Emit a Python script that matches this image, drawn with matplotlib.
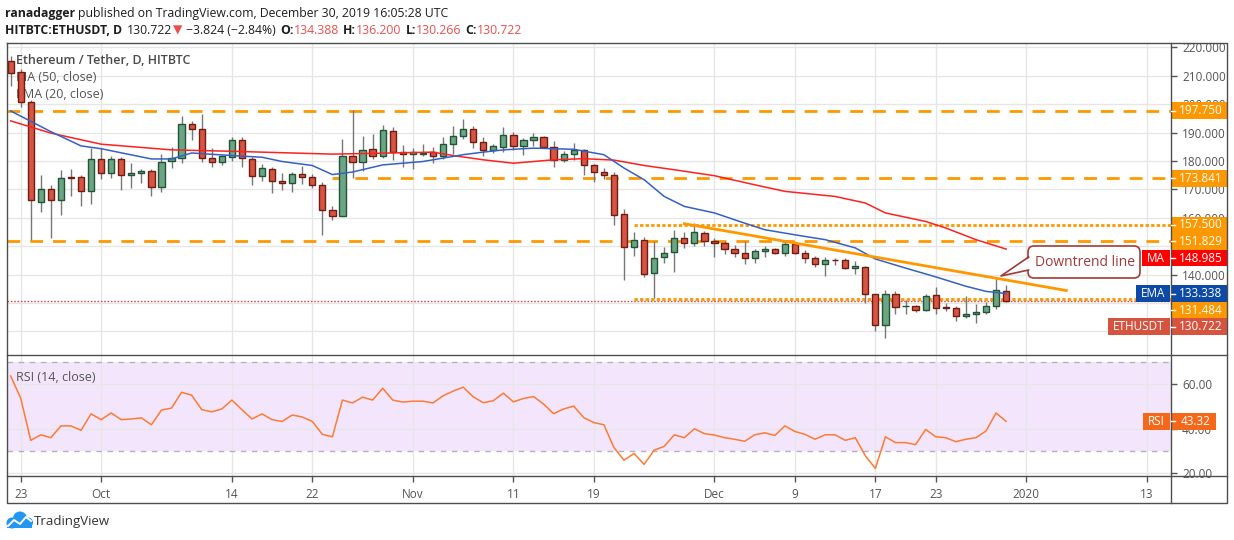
"""ETH/USDT daily chart (TradingView style) with MA50, EMA20 and RSI."""
import numpy as np
import pandas as pd
import matplotlib
matplotlib.use("Agg")
import matplotlib.pyplot as plt
import matplotlib.dates as mdates
from matplotlib.patches import Rectangle, FancyBboxPatch, Polygon, Circle

plt.rcParams['font.family'] = ['Open Sans', 'DejaVu Sans']

# ---------------------------------------------------------------------------
# Data
# ---------------------------------------------------------------------------
dates = pd.date_range('2019-09-22', '2019-12-30', freq='D')

opens = [215.0, 211.4, 200.9, 165.7, 170.1, 166.1, 174.2, 174.2, 169.3,
         180.6, 175.9, 180.6, 175.0, 175.7, 176.5, 170.7, 180.0, 181.0, 193.1,
         191.2, 181.0, 179.8, 181.3, 187.2, 180.6, 174.8, 177.1, 173.0, 172.2,
         175.4, 174.3, 171.6, 162.7, 160.6, 181.7, 179.6, 184.1, 181.7, 190.5, 183.3,
         182.4, 182.6, 183.1, 181.7, 185.9, 188.7, 191.2, 186.6, 183.8, 184.9,
         189.1, 185.2, 187.3, 188.4, 184.9, 180.3, 182.4, 183.8, 178.5, 176.1,
         175.0, 161.3, 149.7, 152.2, 140.6, 146.1, 147.9, 152.9, 151.1, 154.6,
         151.9, 151.1, 149.0, 147.6, 145.9, 148.3, 149.0, 147.6, 150.9, 147.6,
         145.9, 143.7, 145.2, 145.3, 142.3, 142.7, 133.2, 122.3, 133.2, 128.8,
         128.9, 127.7, 132.8, 128.5, 128.4, 125.4, 126.1, 126.8, 128.8, 134.388]
highs = [217.0, 212.5, 201.5, 175.1, 171.5, 176.9, 177.0, 175.0, 184.5,
         184.5, 181.6, 181.5, 179.2, 177.1, 177.0, 182.5, 184.9, 195.9, 194.0,
         196.6, 184.5, 182.0, 188.4, 188.4, 181.4, 179.0, 178.0, 175.8, 176.2,
         178.3, 175.5, 172.5, 164.2, 187.8, 198.0, 188.8, 189.5, 192.7, 192.0, 185.7,
         184.7, 186.0, 185.0, 188.5, 192.3, 194.8, 192.3, 188.5, 186.0, 192.0,
         190.2, 188.0, 189.9, 188.8, 187.1, 183.6, 186.4, 184.3, 178.9, 177.5,
         176.1, 163.2, 154.9, 153.3, 151.9, 149.6, 155.8, 155.0, 158.2, 155.5,
         152.9, 151.9, 150.3, 151.9, 149.0, 150.2, 149.3, 152.3, 151.5, 148.8,
         146.7, 146.2, 145.9, 145.9, 144.7, 143.2, 133.3, 134.7, 134.4, 131.0,
         129.4, 133.3, 135.7, 130.0, 128.9, 132.6, 129.5, 130.3, 138.8, 136.2]
lows = [206.2, 199.1, 152.3, 162.2, 152.9, 161.1, 167.7, 164.2, 164.9,
        173.6, 174.0, 169.9, 170.4, 172.2, 167.7, 168.9, 177.5, 179.2, 187.2,
        179.8, 177.8, 178.6, 180.0, 177.8, 171.6, 172.8, 168.7, 169.9, 169.2,
        171.9, 170.5, 154.0, 159.1, 160.5, 174.0, 176.3, 180.6, 181.2, 180.2, 177.7,
        177.2, 181.6, 179.2, 180.7, 182.4, 187.7, 184.7, 181.6, 182.7, 183.3,
        184.0, 182.2, 185.4, 184.5, 177.7, 179.5, 180.2, 175.1, 172.7, 173.6,
        157.3, 138.0, 146.4, 139.1, 131.8, 144.1, 140.8, 149.3, 150.2, 150.0,
        146.1, 147.3, 146.1, 143.7, 144.1, 146.2, 147.2, 146.4, 147.2, 144.1,
        142.7, 139.4, 143.3, 141.8, 140.3, 130.0, 120.1, 117.7, 126.2, 126.2,
        126.9, 127.1, 126.3, 127.1, 123.6, 124.8, 122.8, 126.3, 127.9, 130.266]
closes = [211.1, 200.9, 166.3, 170.1, 166.1, 174.0, 173.9, 169.3, 180.6,
          175.9, 180.6, 175.0, 175.7, 176.5, 170.7, 179.8, 181.0, 193.1, 191.2,
          181.0, 179.5, 181.6, 187.2, 181.0, 174.8, 177.5, 172.8, 172.2, 175.4,
          174.2, 171.6, 162.6, 160.6, 181.7, 179.6, 183.8, 181.7, 190.8, 183.3, 182.4,
          183.1, 182.8, 181.7, 185.9, 188.7, 191.2, 186.6, 183.8, 185.2, 189.1,
          185.2, 187.3, 188.4, 184.9, 180.3, 182.4, 183.8, 178.5, 176.1, 175.0,
          160.9, 149.7, 152.2, 140.2, 145.9, 147.6, 152.9, 151.1, 155.0, 151.9,
          151.1, 149.0, 147.6, 145.9, 148.4, 149.0, 147.6, 150.9, 147.6, 145.9,
          143.7, 145.3, 145.0, 142.3, 143.2, 133.2, 122.3, 133.2, 128.6, 128.9,
          127.7, 132.6, 128.3, 128.3, 125.4, 126.3, 127.0, 128.8, 134.55, 130.722]

rsi = [63.7, 53.8, 34.8, 37.3, 36.0, 41.3, 41.3, 39.3, 46.7,
       44.1, 47.1, 44.1, 44.4, 44.9, 41.8, 48.4, 49.3, 56.4, 55.1,
       48.6, 47.6, 48.9, 52.9, 48.6, 44.4, 46.7, 44.1, 43.3, 46.2,
       45.3, 43.3, 37.5, 36.4, 52.9, 51.6, 54.2, 52.9, 58.2, 52.9, 52.0,
       52.4, 52.4, 51.6, 54.8, 56.9, 58.7, 54.4, 51.7, 52.6, 56.0,
       52.1, 53.6, 54.5, 51.1, 46.8, 48.9, 50.2, 45.0, 42.8, 41.8,
       31.6, 25.9, 28.9, 24.0, 30.4, 32.1, 37.3, 36.0, 40.0, 37.8,
       37.2, 36.0, 35.3, 34.4, 37.3, 38.2, 37.0, 41.3, 38.8, 37.5,
       35.3, 37.3, 37.3, 34.8, 36.0, 27.9, 22.2, 36.4, 33.8, 33.8,
       32.9, 39.7, 36.4, 36.0, 34.2, 35.3, 36.0, 39.0, 47.1, 43.32]

ma_dates = ['2019-09-22', '2019-09-26', '2019-10-01', '2019-10-08', '2019-10-14',
            '2019-10-24', '2019-10-27', '2019-11-03', '2019-11-05', '2019-11-08',
            '2019-11-11', '2019-11-15', '2019-11-18', '2019-11-21', '2019-11-24',
            '2019-11-27', '2019-12-01', '2019-12-05', '2019-12-08', '2019-12-13',
            '2019-12-16', '2019-12-18', '2019-12-22', '2019-12-24', '2019-12-27',
            '2019-12-30']
ma_vals = [194.1, 189.8, 185.9, 183.9, 183.4, 182.4, 182.6, 183.1, 181.9, 180.4,
           179.2, 180.4, 180.8, 180.3, 178.4, 176.9, 174.8, 171.6, 169.3, 167.5,
           165.2, 161.7, 158.7, 156.4, 152.3, 148.985]

ema_dates = ['2019-09-22', '2019-09-26', '2019-09-29', '2019-10-01', '2019-10-06',
             '2019-10-08', '2019-10-10', '2019-10-14', '2019-10-17', '2019-10-19',
             '2019-10-22', '2019-10-24', '2019-10-26', '2019-10-29', '2019-11-02',
             '2019-11-04', '2019-11-06', '2019-11-08', '2019-11-10', '2019-11-13',
             '2019-11-17', '2019-11-20', '2019-11-22', '2019-11-24', '2019-11-26',
             '2019-11-28', '2019-12-01', '2019-12-04', '2019-12-06', '2019-12-09',
             '2019-12-12', '2019-12-15', '2019-12-17', '2019-12-20', '2019-12-23',
             '2019-12-26', '2019-12-28', '2019-12-30']
ema_vals = [197.6, 190.3, 185.3, 184.3, 180.7, 180.7, 182.8, 181.9, 181.3, 179.8,
            178.4, 175.2, 176.1, 178.6, 179.8, 181.0, 182.2, 183.1, 183.9, 184.5,
            184.1, 182.2, 177.5, 173.4, 167.5, 164.0, 161.7, 158.1, 155.8, 154.0,
            152.3, 149.4, 145.5, 142.3, 139.2, 135.9, 134.1, 133.338]

# horizontal levels: (start date or None = from left edge, value, style)
level_starts = [None, '2019-10-24', '2019-11-23', None, '2019-11-23']
level_vals = [197.75, 173.841, 157.5, 151.829, 131.484]
level_kinds = ['dash', 'dash', 'dot', 'dash', 'dot']

trend_dates = ['2019-11-28', '2020-01-05']
trend_vals = [157.9, 134.4]

last_close = 130.722
ma_last, ema_last, rsi_last = 148.985, 133.338, 43.32

price_ticks = [120, 130, 140, 150, 160, 170, 180, 190, 200, 210, 220]
price_tick_labels = ['', '', '140.000', '', '160.000', '170.000', '180.000',
                     '190.000', '200.000', '210.000', '220.000']

tick_dates = ['2019-09-23', '2019-10-01', '2019-10-14', '2019-10-22', '2019-11-01',
              '2019-11-11', '2019-11-19', '2019-12-01', '2019-12-09', '2019-12-17',
              '2019-12-23', '2020-01-01', '2020-01-13']
tick_labels = ['23', 'Oct', '14', '22', 'Nov', '11', '19', 'Dec', '9', '17', '23',
               '2020', '13']

# ---------------------------------------------------------------------------
# Style
# ---------------------------------------------------------------------------
W, H = 1234, 540
ORANGE = '#ff9800'
GRID = '#e6e6e6'
FRAME = '#4d4d4d'
AXTXT = '#555555'
UP_FILL, UP_EDGE = '#6ba583', '#225437'
DN_FILL, DN_EDGE = '#d75442', '#6f1d12'


def rect(x0, y0, x1, y1):
    return [x0 / W, 1 - y1 / H, (x1 - x0) / W, (y1 - y0) / H]


fig = plt.figure(figsize=(W / 100, H / 100), dpi=100)
fig.patch.set_facecolor('white')

ax = fig.add_axes(rect(6.5, 43.3, 1171, 355.3))
axr = fig.add_axes(rect(6.5, 355.3, 1171, 476), sharex=ax)
ov = fig.add_axes([0, 0, 1, 1])
ov.set_xlim(0, W)
ov.set_ylim(H, 0)
ov.axis('off')
ov.set_zorder(10)
ov.patch.set_alpha(0)

x0 = mdates.date2num(pd.Timestamp('2019-09-23'))
ax.set_xlim(x0 - 1.41, x0 + 114.4)
ax.set_ylim(111.6, 221.4)
axr.set_ylim(18.8, 73.0)

for a in (ax, axr):
    for s in a.spines.values():
        s.set_visible(False)
    a.set_axisbelow(True)
    a.grid(True, color=GRID, lw=1)

tick_x = mdates.date2num(pd.to_datetime(tick_dates))
axr.set_xticks(tick_x)
axr.set_xticklabels(tick_labels)
axr.tick_params(axis='x', length=4, width=1, color=AXTXT, labelcolor=AXTXT,
                labelsize=8.5, pad=5)
ax.tick_params(axis='x', length=0, labelbottom=False)

ax.yaxis.tick_right()
ax.set_yticks(price_ticks)
ax.set_yticklabels(price_tick_labels)
ax.tick_params(axis='y', length=4, width=1, color=AXTXT, labelcolor=AXTXT,
               labelsize=8.5, pad=4)

axr.yaxis.tick_right()
axr.set_yticks([20, 40, 60])
axr.yaxis.set_major_formatter(matplotlib.ticker.FormatStrFormatter('%.2f'))
axr.tick_params(axis='y', length=4, width=1, color=AXTXT, labelcolor=AXTXT,
                labelsize=8.5, pad=4)

# ---------------------------------------------------------------------------
# Price pane
# ---------------------------------------------------------------------------
ax.text(0.008, 0.945, 'Ethereum / Tether, D, HITBTC', transform=ax.transAxes,
        fontsize=9, fontweight='semibold', color='#4a4a4a', va='center', zorder=2)
ax.text(0.008, 0.89, 'MA (50, close)', transform=ax.transAxes, fontsize=9,
        color='#555555', va='center', zorder=2)
ax.text(0.008, 0.835, 'EMA (20, close)', transform=ax.transAxes, fontsize=9,
        color='#555555', va='center', zorder=2)

xs = mdates.date2num(dates)
o, h, l, c = map(np.array, (opens, highs, lows, closes))
up = c >= o
ax.vlines(xs, l, h, color='#777777', lw=1, zorder=3)
bottom = np.minimum(o, c)
height = np.maximum(np.abs(c - o), 0.25)
ax.bar(xs[up], height[up], bottom=bottom[up], width=0.62, color=UP_FILL,
       edgecolor=UP_EDGE, lw=1, zorder=4)
ax.bar(xs[~up], height[~up], bottom=bottom[~up], width=0.62, color=DN_FILL,
       edgecolor=DN_EDGE, lw=1, zorder=4)

ax.plot(mdates.date2num(pd.to_datetime(ma_dates)), ma_vals, color='#ff2020',
        lw=1.1, zorder=5)
ax.plot(mdates.date2num(pd.to_datetime(ema_dates)), ema_vals, color='#3461c6',
        lw=1.1, zorder=5)

xmin, xmax = ax.get_xlim()
for start, val, kind in zip(level_starts, level_vals, level_kinds):
    xa = xmin + 0.05 if start is None else mdates.date2num(pd.Timestamp(start))
    dashes = (4.6, 3.6) if kind == 'dash' else (1.2, 0.8)
    ax.plot([xa, xmax], [val, val], color=ORANGE, lw=2, dashes=dashes,
            zorder=2.6, solid_capstyle='butt')

ax.plot(mdates.date2num(pd.to_datetime(trend_dates)), trend_vals, color=ORANGE,
        lw=2, zorder=6)
ax.axhline(last_close, color='#d9534f', lw=1, dashes=(1.2, 1.2), zorder=2.7)

# ---------------------------------------------------------------------------
# RSI pane
# ---------------------------------------------------------------------------
axr.axhspan(30, 70, color='#f3e6fc', zorder=0.1, lw=0)
for lv in (30, 70):
    axr.axhline(lv, color='#b6aebf', lw=1, dashes=(4, 4), zorder=1)
axr.plot(xs, rsi, color='#ff7a33', lw=1.1, zorder=3)
axr.text(0.008, 0.82, 'RSI (14, close)', transform=axr.transAxes, fontsize=9,
         color='#555555', va='center')

# ---------------------------------------------------------------------------
# Frame, tags, header, callout (pixel overlay)
# ---------------------------------------------------------------------------
renderer = fig.canvas.get_renderer()
L, R, T, B = 6.5, 1227, 43.3, 503.3
ov.plot([L, R, R, L, L], [T, T, B, B, T], color=FRAME, lw=1)
ov.plot([1171, 1171], [T, B], color=FRAME, lw=1)
ov.plot([L, R], [355.3, 355.3], color=FRAME, lw=1)
ov.plot([L, R], [476, 476], color=FRAME, lw=1)


def to_px(a, v):
    return H - a.transData.transform((xmax, v))[1]


def tag(ypx, value, color, name=None, width=56):
    box_h = 16.6
    ov.add_patch(Rectangle((1171, ypx - box_h / 2), width, box_h, fc=color,
                           ec='none'))
    ov.plot([1171, 1175], [ypx, ypx], color='white', lw=1)
    ov.text(1171 + width / 2 + 2, ypx, value, color='white', fontsize=8.5,
            ha='center', va='center')
    if name:
        t = ov.text(1165, ypx, name, color='white', fontsize=8.5, ha='right',
                    va='center')
        tw = t.get_window_extent(renderer).width
        ov.add_patch(Rectangle((1170 - tw - 10, ypx - box_h / 2), tw + 10, box_h,
                               fc=color, ec='none', zorder=t.get_zorder() - 0.1))


tag_specs = [(197.75, '197.750', ORANGE, None),
             (173.841, '173.841', ORANGE, None),
             (157.5, '157.500', ORANGE, None),
             (151.829, '151.829', ORANGE, None),
             (ma_last, '148.985', '#ff0000', 'MA'),
             (ema_last, '133.338', '#0d4aa6', 'EMA'),
             (131.484, '131.484', ORANGE, None),
             (last_close, '130.722', '#d6533f', 'ETHUSDT')]
prev = -1e9
for val, txt, col, name in tag_specs:
    ypx = max(to_px(ax, val), prev + 16.6)
    prev = ypx
    tag(ypx, txt, col, name)
tag(to_px(axr, rsi_last), '43.32', '#f5681a', 'RSI', width=45)


# header
def pieces(y, items, x=5):
    for txt, weight, color, gap in items:
        t = ov.text(x, y, txt, fontsize=8.8, fontweight=weight, color=color,
                    va='center', ha='left')
        x += t.get_window_extent(renderer).width + gap


DARK, RED = '#1e1e1e', '#ef4e4e'
pieces(13, [('ranadagger', 'bold', DARK, 3),
            ('published on TradingView.com, December 30, 2019 16:05:28 UTC',
             'normal', DARK, 0)])
pieces(30, [('HITBTC:ETHUSDT, D', 'bold', DARK, 5), ('130.722', 'normal', DARK, 1),
            ('▼', 'normal', RED, 3), ('−3.824 (−2.84%)', 'normal', DARK, 5),
            ('O:', 'bold', DARK, 0), ('134.388', 'normal', RED, 4),
            ('H:', 'bold', DARK, 0), ('136.200', 'normal', RED, 4),
            ('L:', 'bold', DARK, 0), ('130.266', 'normal', RED, 4),
            ('C:', 'bold', DARK, 0), ('130.722', 'normal', RED, 0)])

# callout
CALL = '#a23a3a'
ov.add_patch(FancyBboxPatch((1028, 246), 112, 32,
                            boxstyle='round,pad=0,rounding_size=6', fc='white',
                            ec=CALL, lw=1.2, zorder=11))
ov.add_patch(Polygon([(1031, 257), (1031, 270), (1001, 276)], closed=True,
                     fc='white', ec='none', zorder=12))
ov.plot([1028.6, 1001, 1028.6], [257, 276, 270], color=CALL, lw=1.2, zorder=13)
ov.text(1085, 262, 'Downtrend line', color=CALL, fontsize=10, ha='center',
        va='center', zorder=14)

# TradingView logo
BLUE = '#2196f3'
for cx, cy, r in [(12, 523, 5.5), (20, 518.5, 7), (28, 522.5, 5)]:
    ov.add_patch(Circle((cx, cy), r, fc=BLUE, ec='none'))
ov.add_patch(Rectangle((7, 522), 25, 6, fc=BLUE, ec='none'))
ov.plot([8, 14, 20, 26, 31], [526, 520, 524, 517, 521], color='white', lw=1.4)
ov.text(34, 521, 'TradingView', fontsize=9.5, color='#333333', va='center')

fig.savefig('out.png', dpi=100)
